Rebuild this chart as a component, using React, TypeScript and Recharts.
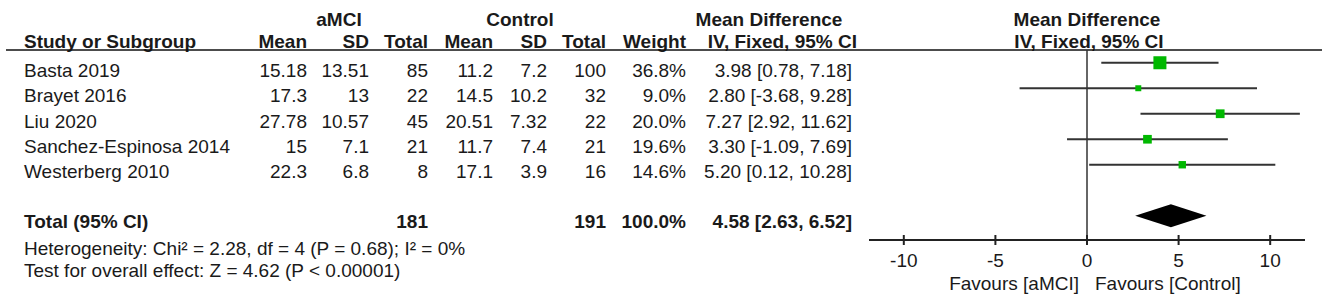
import React from "react";
import { ComposedChart, Scatter, ErrorBar, XAxis, YAxis, ReferenceLine, ReferenceArea } from "recharts";

const studies = ["Basta 2019", "Brayet 2016", "Liu 2020", "Sanchez-Espinosa 2014", "Westerberg 2010"];
const amciMean = [15.18, 17.3, 27.78, 15, 22.3];
const amciSd = [13.51, 13, 10.57, 7.1, 6.8];
const amciN = [85, 22, 45, 21, 8];
const ctrlMean = [11.2, 14.5, 20.51, 11.7, 17.1];
const ctrlSd = [7.2, 10.2, 7.32, 7.4, 3.9];
const ctrlN = [100, 32, 22, 21, 16];
const weights = [36.8, 9.0, 20.0, 19.6, 14.6];
const meanDiff = [3.98, 2.8, 7.27, 3.3, 5.2];
const ciLow = [0.78, -3.68, 2.92, -1.09, 0.12];
const ciHigh = [7.18, 9.28, 11.62, 7.69, 10.28];

const totalAmciN = 181;
const totalCtrlN = 191;
const totalWeight = 100.0;
const totalMd = 4.58;
const totalLo = 2.63;
const totalHi = 6.52;

const xTicks = [-10, -5, 0, 5, 10];
const heterogeneity = "Heterogeneity: Chi² = 2.28, df = 4 (P = 0.68); I² = 0%";
const overallEffect = "Test for overall effect: Z = 4.62 (P < 0.00001)";

const W = 1325;
const H = 302;
const FONT = "'Liberation Sans', Arial, sans-serif";
const TXT = "#1a1a1a";
const ROW = 25.5; // px per row in plot
const PLOT_TOP = 50;
const PLOT_BOTTOM = 240;

const rows = studies.map((s, i) => ({
  x: meanDiff[i],
  y: i + 0.5,
  w: weights[i],
  err: [meanDiff[i] - ciLow[i], ciHigh[i] - meanDiff[i]],
}));
const totalRow = studies.length + 1.5;

const fmt = (v: number) => v.toFixed(2);

const Square = (p: any) => {
  const s = 3.7 + 0.253 * p.payload.w;
  return <rect x={p.cx - s / 2} y={p.cy - s / 2} width={s} height={s} fill="#00b800" />;
};

const Diamond = (p: any) => {
  const { x, y, width, height } = p;
  const cx = x + (width * (totalMd - totalLo)) / (totalHi - totalLo);
  const pts = `${x},${y + height / 2} ${cx},${y} ${x + width},${y + height / 2} ${cx},${y + height}`;
  return <polygon points={pts} fill="#000" />;
};

const Tick = (p: any) => {
  const { x, y, payload } = p;
  return (
    <g>
      <line x1={x} x2={x} y1={y - 5} y2={y + 5} stroke="#222" strokeWidth={2} />
      <text x={x} y={y + 27} textAnchor="middle" fontSize={19} fontFamily={FONT} fill={TXT}>
        {payload.value}
      </text>
    </g>
  );
};

// right edges of the numeric columns
const cols = [307, 369, 428, 493, 547, 606, 686, 852];

function Table() {
  const t = (x: number, y: number, s: string | number, anchor = "end", bold = false) => (
    <text
      x={x}
      y={y}
      textAnchor={anchor}
      fontSize={19}
      fontWeight={bold ? "bold" : "normal"}
      fontFamily={FONT}
      fill={TXT}
    >
      {s}
    </text>
  );
  return (
    <svg width={W} height={H} style={{ position: "absolute", left: 0, top: 0 }}>
      {t(339, 26, "aMCI", "middle", true)}
      {t(520, 26, "Control", "middle", true)}
      {t(769, 26, "Mean Difference", "middle", true)}
      {t(1087, 26, "Mean Difference", "middle", true)}
      {t(24, 48, "Study or Subgroup", "start", true)}
      {t(cols[0], 48, "Mean", "end", true)}
      {t(cols[1], 48, "SD", "end", true)}
      {t(cols[2], 48, "Total", "end", true)}
      {t(cols[3], 48, "Mean", "end", true)}
      {t(cols[4], 48, "SD", "end", true)}
      {t(cols[5], 48, "Total", "end", true)}
      {t(cols[6], 48, "Weight", "end", true)}
      {t(857, 48, "IV, Fixed, 95% CI", "end", true)}
      {t(1089, 48, "IV, Fixed, 95% CI", "middle", true)}
      <line x1={6} x2={1322} y1={PLOT_TOP} y2={PLOT_TOP} stroke="#111" strokeWidth={1.5} />
      {studies.map((s, i) => {
        const y = 77 + i * 25.25;
        return (
          <g key={s}>
            {t(24, y, s, "start")}
            {t(cols[0], y, String(amciMean[i]))}
            {t(cols[1], y, String(amciSd[i]))}
            {t(cols[2], y, amciN[i])}
            {t(cols[3], y, String(ctrlMean[i]))}
            {t(cols[4], y, String(ctrlSd[i]))}
            {t(cols[5], y, ctrlN[i])}
            {t(cols[6], y, weights[i].toFixed(1) + "%")}
            {t(cols[7], y, `${fmt(meanDiff[i])} [${fmt(ciLow[i])}, ${fmt(ciHigh[i])}]`)}
          </g>
        );
      })}
      {t(24, 228, "Total (95% CI)", "start", true)}
      {t(cols[2], 228, totalAmciN, "end", true)}
      {t(cols[5], 228, totalCtrlN, "end", true)}
      {t(cols[6], 228, totalWeight.toFixed(1) + "%", "end", true)}
      {t(cols[7], 228, `${fmt(totalMd)} [${fmt(totalLo)}, ${fmt(totalHi)}]`, "end", true)}
      {t(24, 255, heterogeneity, "start")}
      {t(24, 277, overallEffect, "start")}
      {t(1079, 290, "Favours [aMCI]", "end")}
      {t(1095, 290, "Favours [Control]", "start")}
    </svg>
  );
}

export default function App() {
  return (
    <div style={{ position: "absolute", left: 0, top: 0, width: W, height: H, background: "#fff" }}>
      <Table />
      <div style={{ position: "absolute", left: 0, top: 0 }}>
        <ComposedChart
          width={W}
          height={H}
          data={rows}
          margin={{ top: PLOT_TOP, right: 20, bottom: 0, left: 869 }}
        >
          <XAxis
            type="number"
            dataKey="x"
            domain={[-11.9, 11.9]}
            ticks={xTicks}
            interval={0}
            allowDataOverflow
            tick={<Tick />}
            tickLine={false}
            tickSize={0}
            tickMargin={0}
            axisLine={{ stroke: "#222", strokeWidth: 2 }}
            height={H - PLOT_BOTTOM}
          />
          <YAxis
            type="number"
            dataKey="y"
            domain={[0, (PLOT_BOTTOM - PLOT_TOP) / ROW]}
            reversed
            hide
            allowDataOverflow
          />
          <ReferenceLine x={0} stroke="#333" strokeWidth={1.5} />
          <ReferenceArea
            x1={totalLo}
            x2={totalHi}
            y1={totalRow - 0.45}
            y2={totalRow + 0.45}
            shape={Diamond}
          />
          <Scatter data={rows} shape={Square} isAnimationActive={false}>
            <ErrorBar dataKey="err" direction="x" width={0} stroke="#333" strokeWidth={2} isAnimationActive={false} />
          </Scatter>
        </ComposedChart>
      </div>
    </div>
  );
}
